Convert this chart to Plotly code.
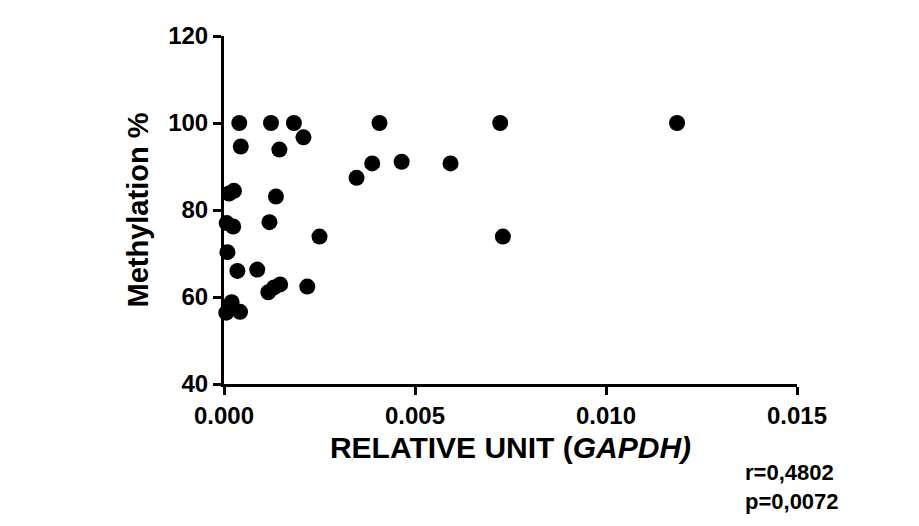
import plotly.graph_objects as go

# Relative expression (GAPDH-normalised) vs. methylation percentage
relative_unit = [
    0.00040, 0.00123, 0.00183, 0.00407, 0.00723, 0.01186,
    0.00208, 0.00044, 0.00145,
    0.00347, 0.00388, 0.00465, 0.00593,
    0.00013, 0.00026, 0.00136,
    0.00007, 0.00024, 0.00119,
    0.00250, 0.00730,
    0.00009,
    0.00035, 0.00087,
    0.00116, 0.00131, 0.00147, 0.00218,
    0.00020, 0.00006, 0.00042,
]
methylation = [
    100.0, 100.0, 100.0, 100.0, 100.0, 100.0,
    96.7, 94.6, 93.9,
    87.4, 90.7, 91.1, 90.7,
    83.8, 84.4, 83.1,
    77.0, 76.2, 77.2,
    73.9, 73.9,
    70.3,
    66.0, 66.3,
    61.1, 62.2, 62.9, 62.4,
    58.8, 56.4, 56.6,
]

x_ticks = [0.0, 0.005, 0.010, 0.015]
x_tick_labels = ["0.000", "0.005", "0.010", "0.015"]
y_ticks = [40, 60, 80, 100, 120]
stats_lines = ["r=0,4802", "p=0,0072"]

FONT = "Liberation Sans, Arial, sans-serif"

fig = go.Figure(
    go.Scatter(
        x=relative_unit,
        y=methylation,
        mode="markers",
        marker=dict(color="black", size=16, line=dict(width=0)),
        cliponaxis=False,
        showlegend=False,
    )
)

axis_common = dict(
    showline=True,
    linecolor="black",
    linewidth=3,
    ticks="outside",
    ticklen=8,
    tickwidth=3,
    tickcolor="black",
    showgrid=False,
    zeroline=False,
    tickfont=dict(family=FONT, size=24, color="black", weight="bold"),
)

fig.update_xaxes(
    range=[0, 0.015],
    tickvals=x_ticks,
    ticktext=x_tick_labels,
    title=dict(
        text="RELATIVE UNIT (<i>GAPDH)</i>",
        font=dict(family=FONT, size=30, color="black", weight="bold"),
        standoff=10,
    ),
    **axis_common,
)
fig.update_yaxes(
    range=[40, 120],
    tickvals=y_ticks,
    title=dict(
        text="Methylation %",
        font=dict(family=FONT, size=29, color="black", weight="bold"),
        standoff=12,
    ),
    **axis_common,
)

# correlation statistics, two lines under the right end of the x axis
fig.add_annotation(
    text="<br>".join(stats_lines),
    xref="paper",
    yref="paper",
    x=0.905,
    y=-0.295,
    xanchor="left",
    yanchor="middle",
    align="left",
    showarrow=False,
    font=dict(family=FONT, size=22, color="black", weight="bold"),
)

fig.update_layout(
    width=919,
    height=526,
    margin=dict(l=224, r=122, t=36, b=142),
    paper_bgcolor="white",
    plot_bgcolor="white",
)

fig.write_html("out.html")
